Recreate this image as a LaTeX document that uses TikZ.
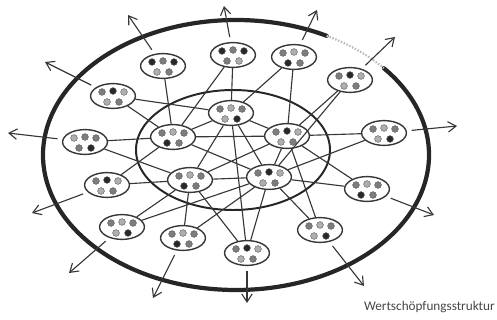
\documentclass[tikz,border=0pt]{standalone}
\usepackage{fontspec}
\setmainfont{Carlito}
\usepackage{tikz}
\usetikzlibrary{arrows.meta,shapes.geometric}
\definecolor{inkgrey}{RGB}{55,55,55}
\definecolor{dotdark}{RGB}{40,40,40}
\definecolor{dotmid}{RGB}{125,125,125}
\definecolor{dotlight}{RGB}{175,175,175}
\definecolor{labelgrey}{RGB}{70,70,70}

\tikzset{
  cluster/.style={draw=inkgrey, ellipse, line width=1pt, fill=white, minimum width=1.12cm, minimum height=0.62cm, inner sep=0pt},
  link/.style={draw=inkgrey, line width=0.8pt},
  outarrow/.style={draw=inkgrey, line width=0.8pt, shorten <=3.5pt, -{Straight Barb[length=2mm,width=2.6mm]}},
  dot/.style={draw=black!65, line width=0.3pt}
}
% five dots inside a cluster: 3 on top, 2 below
\newcommand{\clusterdots}[6]{%
  \filldraw[dot, fill=#2] ([shift={(-11,-4)}]#1.center) circle[radius=2.4pt];
  \filldraw[dot, fill=#3] ([shift={(0,-5)}]#1.center) circle[radius=2.4pt];
  \filldraw[dot, fill=#4] ([shift={(11,-4)}]#1.center) circle[radius=2.4pt];
  \filldraw[dot, fill=#5] ([shift={(-6,6)}]#1.center) circle[radius=2.4pt];
  \filldraw[dot, fill=#6] ([shift={(6,6)}]#1.center) circle[radius=2.4pt];
}

\begin{document}
\begin{tikzpicture}[x=0.025cm, y=-0.025cm]
\useasboundingbox (0,0) rectangle (497,320);

% outer and inner boundary
\draw[black!85, line width=3pt, line cap=round] ([shift={(-40:193 and 135)}]236,155) arc[start angle=-40, end angle=298, x radius=193, y radius=135];
\draw[gray!55, line width=1.6pt, dash pattern=on 1pt off 1.2pt] ([shift={(-62:193 and 135)}]236,155) arc[start angle=-62, end angle=-40, x radius=193, y radius=135];
\draw[black!85, line width=1.4pt] (233,150) ellipse[x radius=97, y radius=60];

% core clusters
\node[cluster] (k1) at (231,113) {};
\node[cluster] (k2) at (173,137) {};
\node[cluster] (k3) at (287,136) {};
\node[cluster] (k4) at (190,180) {};
\node[cluster] (k5) at (269,177) {};

% outer clusters
\node[cluster] (p1)  at (163,66)  {};
\node[cluster] (p2)  at (233,55)  {};
\node[cluster] (p3)  at (294,57)  {};
\node[cluster] (p4)  at (350,80)  {};
\node[cluster] (p5)  at (113,96)  {};
\node[cluster] (p6)  at (85,142)  {};
\node[cluster] (p7)  at (384,133) {};
\node[cluster] (p8)  at (107,185) {};
\node[cluster] (p9)  at (122,227) {};
\node[cluster] (p10) at (183,238) {};
\node[cluster] (p11) at (247,253) {};
\node[cluster] (p12) at (320,230) {};
\node[cluster] (p13) at (367,189) {};

% connections
\draw[link] (k1) -- (k2) (k1) -- (k3) (k1) -- (k4) (k1) -- (k5);
\draw[link] (k2) -- (k3) (k2) -- (k5) (k3) -- (k4) (k3) -- (k5) (k4) -- (k5);
\draw[link] (p1) -- (k2) (p2) -- (k2) (p2) -- (k1) (p3) -- (k1) (p3) -- (k3);
\draw[link] (p4) -- (k3) (p4) -- (k5) (p5) -- (k1) (p5) -- (k2) (p6) -- (k2) (p6) -- (k4);
\draw[link] (p7) -- (k3) (p7) -- (k5) (p8) -- (k2) (p8) -- (k4) (p9) -- (k4) (p9) -- (k5);
\draw[link] (p10) -- (k4) (p10) -- (k5) (p11) -- (k1) (p11) -- (k4) (p11) -- (k5);
\draw[link] (p12) -- (k3) (p12) -- (k5) (p13) -- (k3) (p13) -- (k5);

% dots
\clusterdots{k1}{dotmid}{dotlight}{dotmid}{dotlight}{dotdark}
\clusterdots{k2}{dotmid}{dotlight}{dotmid}{dotdark}{dotmid}
\clusterdots{k3}{dotmid}{dotdark}{dotlight}{dotlight}{dotmid}
\clusterdots{k4}{dotmid}{dotlight}{dotmid}{dotdark}{dotmid}
\clusterdots{k5}{dotmid}{dotdark}{dotlight}{dotlight}{dotmid}
\clusterdots{p1}{dotdark}{dotmid}{dotdark}{dotlight}{dotmid}
\clusterdots{p2}{dotdark}{dotmid}{dotdark}{dotmid}{dotlight}
\clusterdots{p3}{dotmid}{dotlight}{dotmid}{dotdark}{dotmid}
\clusterdots{p4}{dotmid}{dotdark}{dotlight}{dotlight}{dotmid}
\clusterdots{p5}{dotmid}{dotdark}{dotlight}{dotlight}{dotmid}
\clusterdots{p6}{dotlight}{dotmid}{dotmid}{dotmid}{dotdark}
\clusterdots{p7}{dotmid}{dotlight}{dotmid}{dotlight}{dotdark}
\clusterdots{p8}{dotmid}{dotdark}{dotlight}{dotlight}{dotmid}
\clusterdots{p9}{dotmid}{dotlight}{dotmid}{dotlight}{dotdark}
\clusterdots{p10}{dotmid}{dotlight}{dotmid}{dotdark}{dotmid}
\clusterdots{p11}{dotmid}{dotdark}{dotlight}{dotlight}{dotmid}
\clusterdots{p12}{dotmid}{dotlight}{dotmid}{dotlight}{dotdark}
\clusterdots{p13}{dotmid}{dotlight}{dotmid}{dotdark}{dotmid}

% outward arrows
\coordinate (e1)  at (128,15);
\coordinate (e2)  at (224,6);
\coordinate (e3)  at (317,10);
\coordinate (e4)  at (395,37);
\coordinate (e5)  at (45,62);
\coordinate (e6)  at (8,133);
\coordinate (e7)  at (457,126);
\coordinate (e8)  at (32,213);
\coordinate (e9)  at (69,273);
\coordinate (e10) at (153,298);
\coordinate (e11) at (247,303);
\coordinate (e12) at (364,286);
\coordinate (e13) at (434,215);
\draw[outarrow] (p1) -- (e1);
\draw[outarrow] (p2) -- (e2);
\draw[outarrow] (p3) -- (e3);
\draw[outarrow] (p4) -- (e4);
\draw[outarrow] (p5) -- (e5);
\draw[outarrow] (p6) -- (e6);
\draw[outarrow] (p7) -- (e7);
\draw[outarrow] (p8) -- (e8);
\draw[outarrow] (p9) -- (e9);
\draw[outarrow] (p10) -- (e10);
\draw[outarrow] (p11) -- (e11);
\draw[outarrow] (p12) -- (e12);
\draw[outarrow] (p13) -- (e13);

\node[anchor=east, text=labelgrey, font=\fontsize{9.4}{11}\selectfont, inner sep=0pt] (caption) at (495,307) {Wertschöpfungsstruktur};
\end{tikzpicture}
\end{document}
